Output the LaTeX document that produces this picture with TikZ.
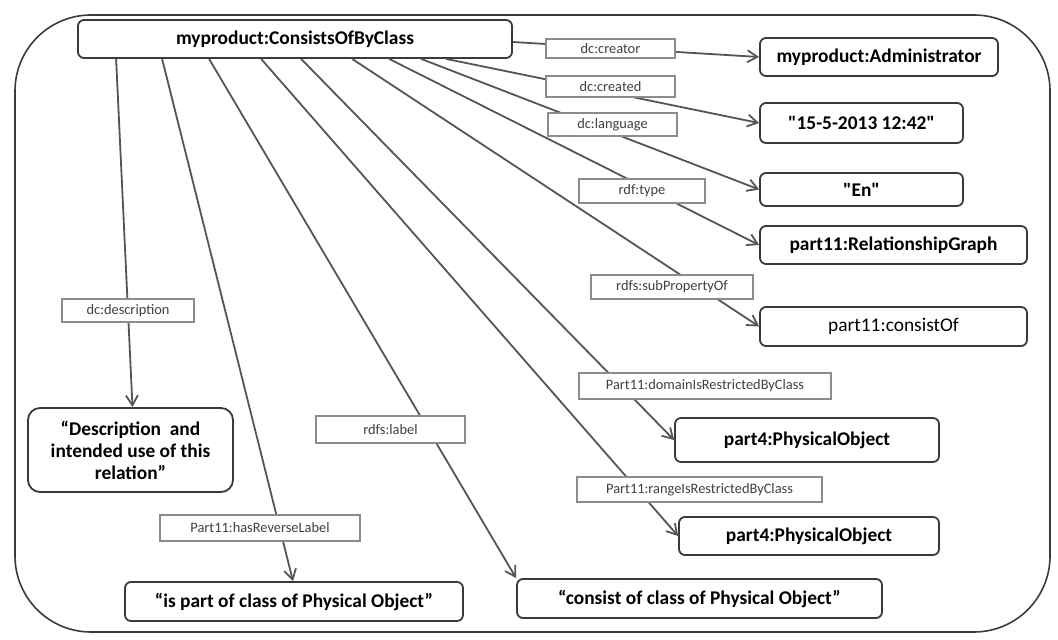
\documentclass[tikz,border=0pt]{standalone}
\usepackage{fontspec}
\setmainfont{Carlito}
\usetikzlibrary{arrows.meta, positioning}
\definecolor{rdfline}{HTML}{555555}
\definecolor{rdfframe}{HTML}{3A3A3A}
\definecolor{rdflabel}{HTML}{8C8C8C}

\begin{document}
\begin{tikzpicture}[x=0.5pt, y=-0.5pt,
  res/.style={rounded corners=3pt, draw=rdfframe, line width=0.9pt, fill=white,
              font=\fontsize{9.7}{11}\selectfont\bfseries, align=center, inner sep=1pt},
  prop/.style={draw=rdflabel, line width=0.8pt, fill=white, inner sep=0pt,
               font=\fontsize{7.2}{8}\selectfont, text=black!75},
  propline/.style={-{Straight Barb[length=5pt,width=6pt]}, line width=0.9pt, rdfline}
]
  \useasboundingbox (0,0) rectangle (1058,640);
  % outer frame
  \draw[rdfframe, line width=0.8pt, rounded corners=38pt] (15,15) rectangle (1050,632);

  % resources
  \node[res, minimum width=217pt, minimum height=19pt] (main) at (295,39) {myproduct:ConsistsOfByClass};
  \node[res, minimum width=119pt, minimum height=19pt] (admin) at (879,57) {myproduct:Administrator};
  \node[res, minimum width=101.5pt, minimum height=20pt] (date) at (861.5,123) {\textquotedbl15-5-2013 12:42\textquotedbl};
  \node[res, minimum width=101.5pt, minimum height=16.5pt] (en) at (861.5,189.5) {\textquotedbl En\textquotedbl};
  \node[res, minimum width=133.5pt, minimum height=19pt] (relg) at (893.5,245) {part11:RelationshipGraph};
  \node[res, minimum width=133.5pt, minimum height=19.5pt, font=\fontsize{9.7}{11}\selectfont] (cons) at (893.5,326.5) {part11:consistOf};
  \node[res, minimum width=132pt, minimum height=22pt] (physA) at (807,440) {part4:PhysicalObject};
  \node[res, minimum width=130pt, minimum height=19pt] (physB) at (809,536) {part4:PhysicalObject};
  \node[res, minimum width=182.5pt, minimum height=19.5pt] (consist) at (699.5,598.5) {“consist of class of Physical Object”};
  \node[res, minimum width=169pt, minimum height=19.5pt] (ispart) at (294,601.5) {“is part of class of Physical Object”};
  \node[res, minimum width=102.5pt, minimum height=42pt, rounded corners=6pt] (desc) at (130.5,450)
    {“Description\ \ and\\intended use of this\\relation”};

  % properties
  \draw[propline] ([yshift=-1.5pt]main.east) -- (admin.west);
  \draw[propline] ([xshift=184.5pt]main.south west) -- (date.west);
  \draw[propline] ([xshift=172pt]main.south west) -- (en.west);
  \draw[propline] ([xshift=156pt]main.south west) -- (relg.west);
  \draw[propline] ([xshift=137.5pt]main.south west) -- (cons.west);
  \draw[propline] ([xshift=112pt]main.south west) -- (physA.west);
  \draw[propline] ([xshift=92pt]main.south west) -- (physB.west);
  \draw[propline] ([xshift=66pt]main.south west) -- (consist.north west);
  \draw[propline] ([xshift=42.5pt]main.south west) -- ([xshift=-0.5pt]ispart.north);
  \draw[propline] ([xshift=19.5pt]main.south west) -- ([xshift=1pt]desc.north);

  % property labels
  \node[prop, minimum width=64.5pt, minimum height=9.5pt] (creatorlbl) at (610.5,48.5) {dc:creator};
  \node[prop, minimum width=64.5pt, minimum height=10.5pt] (createdlbl) at (610.5,86.5) {dc:created};
  \node[prop, minimum width=64.5pt, minimum height=11.5pt] (languagelbl) at (612.5,124.5) {dc:language};
  \node[prop, minimum width=63pt, minimum height=12pt] (typelbl) at (642,191) {rdf:type};
  \node[prop, minimum width=81pt, minimum height=12pt] (subproplbl) at (672,287) {rdfs:subPropertyOf};
  \node[prop, minimum width=126pt, minimum height=13pt] (domainlbl) at (705,386) {Part11:domainIsRestrictedByClass};
  \node[prop, minimum width=122.5pt, minimum height=12.5pt] (rangelbl) at (699.5,489.5) {Part11:rangeIsRestrictedByClass};
  \node[prop, minimum width=66pt, minimum height=11.5pt] (desclbl) at (128,310.5) {dc:description};
  \node[prop, minimum width=74.5pt, minimum height=13.5pt] (labellbl) at (390.5,429.5) {rdfs:label};
  \node[prop, minimum width=100pt, minimum height=13pt] (reverselbl) at (260,528) {Part11:hasReverseLabel};
\end{tikzpicture}
\end{document}
